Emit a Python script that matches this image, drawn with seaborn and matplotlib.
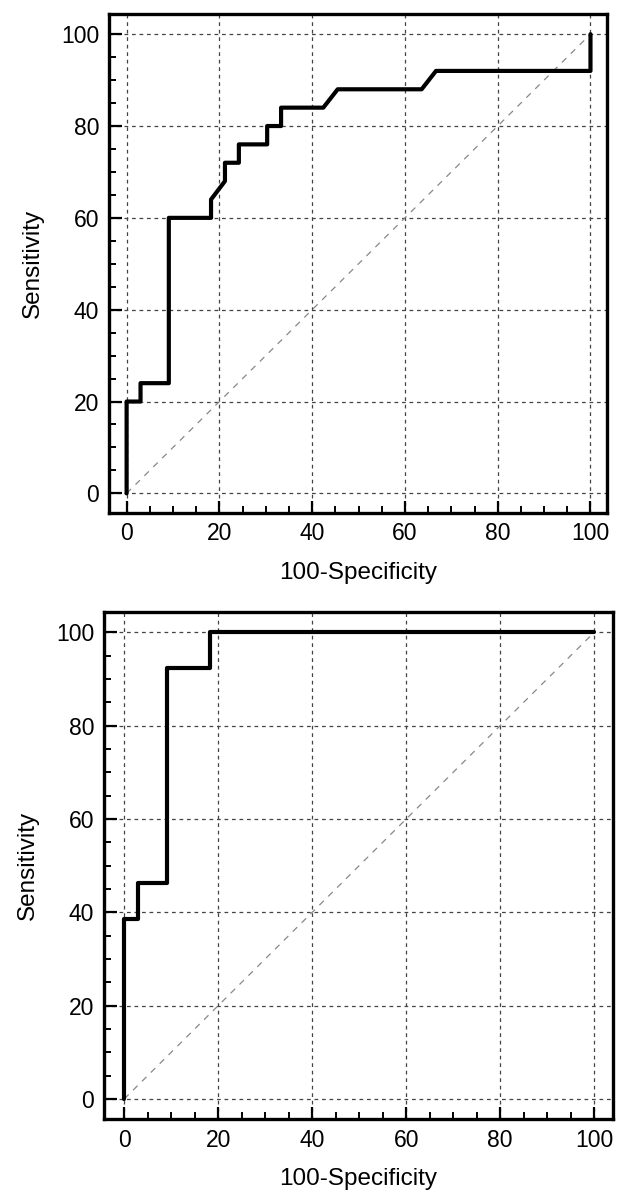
import pandas as pd
import matplotlib
matplotlib.use("Agg")
import matplotlib.pyplot as plt
import seaborn as sns
from matplotlib.ticker import MultipleLocator

# ROC curve points (100-Specificity, Sensitivity)
fpr_top = [0, 0, 3.0, 3.0, 9.1, 9.1, 18.2, 18.2, 21.2, 21.2, 24.2, 24.2,
           30.3, 30.3, 33.3, 33.3, 42.4, 45.5, 63.6, 66.7, 100, 100]
tpr_top = [0, 20, 20, 24, 24, 60, 60, 64, 68, 72, 72, 76,
           76, 80, 80, 84, 84, 88, 88, 92, 92, 100]

fpr_bottom = [0, 0, 3.0, 3.0, 9.1, 9.1, 18.2, 18.2, 100]
tpr_bottom = [0, 38.5, 38.5, 46.2, 46.2, 92.3, 92.3, 100, 100]

diag = [0, 100]
ticks = [0, 20, 40, 60, 80, 100]

sns.set_style("white")
plt.rcParams['font.family'] = ['Liberation Sans', 'DejaVu Sans']
plt.rcParams['text.color'] = 'black'
plt.rcParams['axes.labelcolor'] = 'black'
plt.rcParams['xtick.color'] = 'black'
plt.rcParams['ytick.color'] = 'black'

fig = plt.figure(figsize=(6.21, 11.95), dpi=100)
ax_top = fig.add_axes([0.1755, 0.571, 0.8015, 0.4173])
ax_bot = fig.add_axes([0.1675, 0.0636, 0.8195, 0.424])


def roc_panel(ax, fpr, tpr, xlim, ylim):
    df = pd.DataFrame({'fpr': fpr, 'tpr': tpr})
    ax.plot(diag, diag, color='#888888', lw=0.9, ls=(0, (5, 5)), zorder=2)
    sns.lineplot(data=df, x='fpr', y='tpr', sort=False, estimator=None,
                 color='black', lw=3.0, ax=ax, zorder=3)
    ax.set_xlim(*xlim)
    ax.set_ylim(*ylim)
    ax.set_xticks(ticks)
    ax.set_yticks(ticks)
    ax.xaxis.set_minor_locator(MultipleLocator(5))
    ax.yaxis.set_minor_locator(MultipleLocator(5))
    ax.grid(True, which='major', color='#444444', lw=0.9, ls=(0, (3, 3)))
    ax.tick_params(which='major', direction='in', length=9, width=1.6,
                   labelsize=16.5, pad=7, bottom=True, left=True, top=False, right=False)
    ax.tick_params(which='minor', direction='in', length=5, width=1.4,
                   bottom=True, left=True, top=False, right=False)
    for sp in ax.spines.values():
        sp.set_visible(True)
        sp.set_color('black')
        sp.set_linewidth(2.4)
    ax.set_xlabel("100-Specificity", fontsize=17.5, labelpad=12)
    ax.set_ylabel("Sensitivity", fontsize=17.5, labelpad=12)


roc_panel(ax_top, fpr_top, tpr_top, (-3.8, 103.5), (-4.2, 104.4))
roc_panel(ax_bot, fpr_bottom, tpr_bottom, (-4.3, 104.0), (-4.3, 104.3))

fig.savefig("out.png", dpi=100)
